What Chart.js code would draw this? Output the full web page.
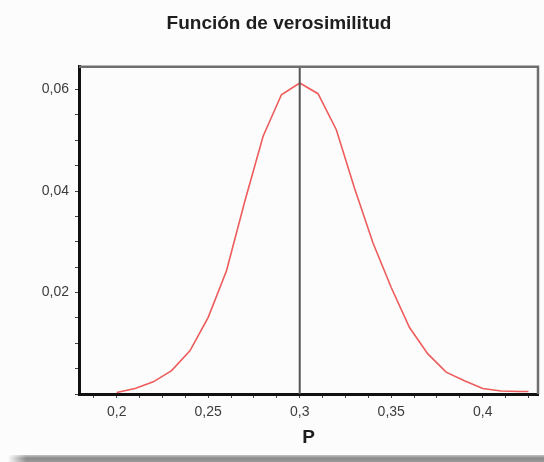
<!DOCTYPE html>
<html lang="es">
<head>
<meta charset="UTF-8">
<title>Función de verosimilitud</title>
<script src="https://cdn.jsdelivr.net/npm/chart.js"></script>
<style>
    body {
        margin: 0;
        background: #fcfcfc;
    }
    .wrap {
        position: relative;
        width: 544px;
        height: 462px;
    }
    .shadow-bar {
        position: absolute;
        left: 8px;
        top: 455px;
        width: 536px;
        height: 7px;
        background: linear-gradient(to bottom, #c4c4c4, #8a8a8a 45%, #9a9a9a);
        -webkit-mask-image: linear-gradient(to right, transparent, #000 18px);
        mask-image: linear-gradient(to right, transparent, #000 18px);
    }
</style>
</head>
<body>
<div class="wrap">
    <canvas id="myChart" width="544" height="462"></canvas>
    <div class="shadow-bar"></div>
</div>
<script>
    // valores
    const pValues = [0.20, 0.21, 0.22, 0.23, 0.24, 0.25, 0.26, 0.27, 0.28, 0.29, 0.30,
                     0.31, 0.32, 0.33, 0.34, 0.35, 0.36, 0.37, 0.38, 0.39, 0.40, 0.41, 0.42, 0.425];
    const likelihood = [0.0003, 0.0011, 0.0024, 0.0046, 0.0085, 0.0151, 0.0243, 0.0380, 0.0508, 0.0590, 0.0613,
                        0.0592, 0.0521, 0.0405, 0.0298, 0.0210, 0.0131, 0.0079, 0.0043, 0.0026, 0.0011, 0.0006, 0.0005, 0.0005];
    const xTickLabels = [0.2, 0.25, 0.3, 0.35, 0.4];
    const yTickLabels = [0.02, 0.04, 0.06];
    const pMax = 0.3;

    const fmt = v => String(Math.round(v * 1000) / 1000).replace('.', ',');
    const isLabel = (v, list) => list.some(t => Math.abs(t - v) < 1e-6);

    // marco superior/derecho y linea vertical en el maximo
    const framePlugin = {
        id: 'frame',
        afterDatasetsDraw(chart) {
            const { ctx, chartArea: a, scales } = chart;
            ctx.save();
            const xp = scales.x.getPixelForValue(pMax);
            ctx.strokeStyle = '#555';
            ctx.lineWidth = 2;
            ctx.beginPath();
            ctx.moveTo(xp, a.top);
            ctx.lineTo(xp, a.bottom);
            ctx.stroke();

            ctx.strokeStyle = '#6f6f6f';
            ctx.lineWidth = 2.5;
            ctx.beginPath();
            ctx.moveTo(a.left, a.top);
            ctx.lineTo(a.right, a.top);
            ctx.lineTo(a.right, a.bottom);
            ctx.stroke();
            ctx.restore();
        }
    };

    const ctx = document.getElementById('myChart').getContext('2d');
    new Chart(ctx, {
        type: 'line',
        data: {
            datasets: [{
                data: pValues.map((p, i) => ({ x: p, y: likelihood[i] })),
                borderColor: '#ee5c5c',
                borderWidth: 1.6,
                pointRadius: 0,
                tension: 0,
                fill: false
            }]
        },
        options: {
            responsive: false,
            animation: false,
            layout: { padding: { left: 20, right: 6, top: 0, bottom: 0 } },
            plugins: {
                legend: { display: false },
                tooltip: { enabled: false },
                title: {
                    display: true,
                    text: 'Función de verosimilitud',
                    color: '#1e1e1e',
                    font: { family: '"Liberation Sans", Arial, sans-serif', size: 19, weight: 'bold' },
                    padding: { top: 12, bottom: 32 }
                }
            },
            scales: {
                x: {
                    type: 'linear',
                    min: 0.1794,
                    max: 0.4302,
                    afterFit(scale) { scale.height = 68; },
                    border: { color: '#111', width: 3 },
                    grid: { drawOnChartArea: false, drawTicks: true, tickLength: 4, tickColor: '#444' },
                    ticks: {
                        stepSize: 0.0125,
                        includeBounds: false,
                        autoSkip: false,
                        maxRotation: 0,
                        padding: 6,
                        color: '#3c3c3c',
                        font: { family: '"Liberation Sans", Arial, sans-serif', size: 14 },
                        callback: v => isLabel(v, xTickLabels) ? fmt(v) : ''
                    },
                    title: {
                        display: true,
                        text: 'P',
                        color: '#1e1e1e',
                        font: { family: '"Liberation Sans", Arial, sans-serif', size: 19, weight: 'bold' },
                        padding: { top: 0, bottom: 13 }
                    }
                },
                y: {
                    min: 0,
                    max: 0.0645,
                    afterFit(scale) { scale.width = 59; },
                    border: { color: '#111', width: 3 },
                    grid: { drawOnChartArea: false, drawTicks: true, tickLength: 4, tickColor: '#444' },
                    ticks: {
                        stepSize: 0.005,
                        includeBounds: false,
                        autoSkip: false,
                        padding: 6,
                        color: '#3c3c3c',
                        font: { family: '"Liberation Sans", Arial, sans-serif', size: 14 },
                        callback: v => isLabel(v, yTickLabels) ? fmt(v) : ''
                    }
                }
            }
        },
        plugins: [framePlugin]
    });
</script>
</body>
</html>
